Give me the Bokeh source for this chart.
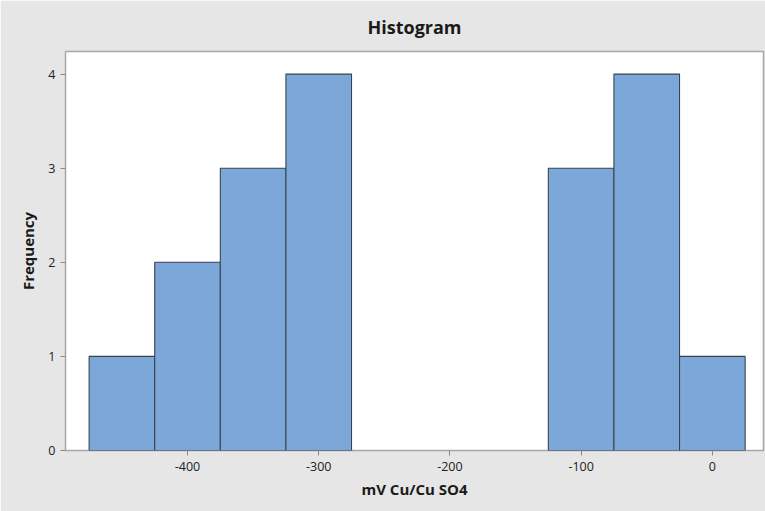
from bokeh.plotting import figure
from bokeh.models import ColumnDataSource, Range1d, FixedTicker
from bokeh.embed import file_html
from bokeh.resources import INLINE

# Histogram of potential readings (bin width 50 mV)
bin_edges = [-475, -425, -375, -325, -275, -225, -175, -125, -75, -25, 25]
frequency = [1, 2, 3, 4, 0, 0, 0, 3, 4, 1]
x_ticks = [-400, -300, -200, -100, 0]
y_ticks = [0, 1, 2, 3, 4]

left, right, top = [], [], []
for i, f in enumerate(frequency):
    if f > 0:
        left.append(bin_edges[i])
        right.append(bin_edges[i + 1])
        top.append(f)
src = ColumnDataSource(dict(left=left, right=right, top=top, bottom=[0] * len(top)))

FONT = "Open Sans"
BG = "#e6e6e6"

p = figure(width=765, height=511, output_backend="svg", toolbar_location=None,
           x_range=Range1d(-493, 39), y_range=Range1d(0, 4.24),
           title="Histogram")
p.background_fill_color = "white"
p.border_fill_color = BG
p.outline_line_color = "#a8a8a8"
p.outline_line_width = 1.5
p.min_border_left = 65
p.min_border_right = 2
p.min_border_top = 51
p.min_border_bottom = 61

p.title.align = "center"
p.title.text_font = FONT
p.title.text_font_size = "18px"
p.title.text_font_style = "bold"
p.title.text_color = "#1a1a1a"
p.title.standoff = 25

p.quad(left="left", right="right", top="top", bottom="bottom", source=src,
       fill_color="#7ba7d9", line_color="#3a434d", line_width=1.1)

p.xgrid.visible = False
p.ygrid.visible = False

for ax in (p.xaxis[0], p.yaxis[0]):
    ax.axis_line_color = None
    ax.major_tick_line_color = "#8a8a8a"
    ax.major_tick_in = 0
    ax.major_tick_out = 5
    ax.minor_tick_line_color = None
    ax.major_label_text_font = FONT
    ax.major_label_text_font_size = "12.5px"
    ax.major_label_text_color = "#222222"
    ax.axis_label_text_font = FONT
    ax.axis_label_text_font_size = "15px"
    ax.axis_label_text_font_style = "bold"
    ax.axis_label_text_color = "#1a1a1a"

p.xaxis[0].ticker = FixedTicker(ticks=x_ticks)
p.yaxis[0].ticker = FixedTicker(ticks=y_ticks)
# plain hyphen for negative tick labels
p.xaxis[0].major_label_overrides = {t: str(t) for t in x_ticks}
p.xaxis[0].axis_label = "mV Cu/Cu SO4"
p.yaxis[0].axis_label = "Frequency"
p.xaxis[0].axis_label_standoff = 5
p.yaxis[0].axis_label_standoff = 7
p.xaxis[0].major_label_standoff = 6
p.yaxis[0].major_label_standoff = 5

open("out.html", "w").write(file_html(p, INLINE))
